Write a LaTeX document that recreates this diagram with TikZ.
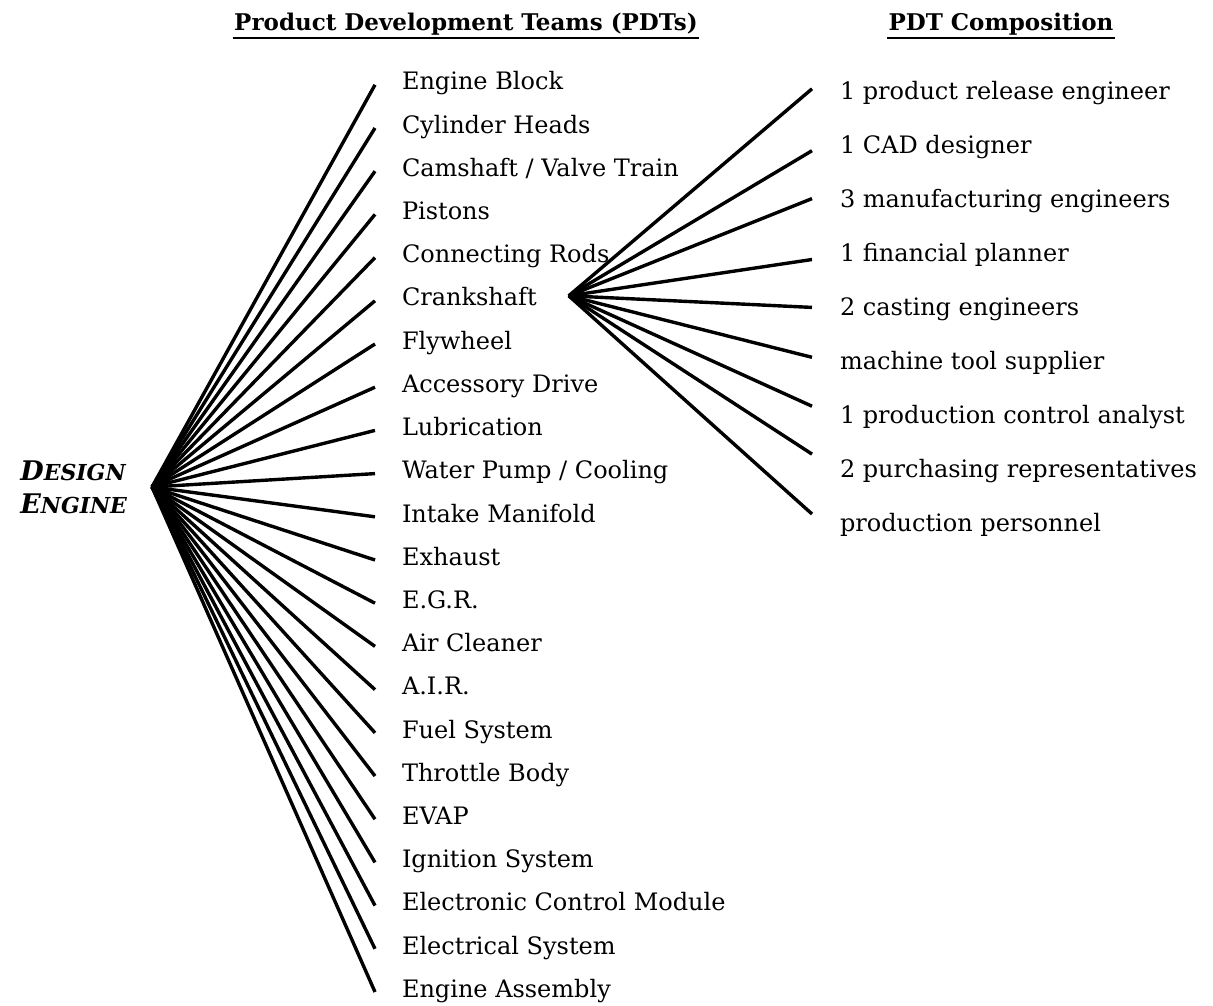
\documentclass[tikz,border=0pt]{standalone}
\usepackage{fontspec}
\setmainfont{DejaVu Serif}
\usepackage{tikz}

\begin{document}
\begin{tikzpicture}[x=0.5pt, y=-0.5pt, line width=1.7pt,
    team/.style = {anchor=base west, inner sep=0pt, outer xsep=13.5pt, font=\fontsize{12}{14}\selectfont},
    member/.style = {anchor=base west, inner sep=0pt, outer xsep=14pt, font=\fontsize{12}{14}\selectfont},
    head/.style = {anchor=base, inner sep=0pt, font=\fontsize{11.5}{14}\selectfont\bfseries},
    main/.style = {anchor=east, inner sep=0pt, outer xsep=12.5pt, align=left, font=\fontsize{11}{16.5}\selectfont\bfseries\itshape}]
    \useasboundingbox (0,0) rectangle (1213,1005);

    \node[head] (h1) at (466,31)  {Product Development Teams (PDTs)};
    \node[head] (h2) at (1001,31) {PDT Composition};
    \draw[line width=1.3pt] ([yshift=-3.5pt]h1.base west) -- ([yshift=-3.5pt]h1.base east);
    \draw[line width=1.3pt] ([yshift=-3.5pt]h2.base west) -- ([yshift=-3.5pt]h2.base east);

    \node[main] (design) at (152,487) {{\fontsize{13.5}{16.5}\selectfont D}ESIGN\\{\fontsize{13.5}{16.5}\selectfont E}NGINE};

    \foreach \name [count=\i] in {Engine Block, Cylinder Heads, Camshaft / Valve Train, Pistons,
        Connecting Rods, Crankshaft, Flywheel, Accessory Drive, Lubrication, Water Pump / Cooling,
        Intake Manifold, Exhaust, E.G.R., Air Cleaner, A.I.R., Fuel System, Throttle Body, EVAP,
        Ignition System, Electronic Control Module, Electrical System, Engine Assembly}
        \node[team] (t\i) at (375,{90+43.2*(\i-1)}) {\name};

    \foreach \i in {1,...,22}
        \draw (design.east) -- (t\i.mid west);

    \coordinate (hub) at ([xshift=2.5pt, yshift=2.5pt]t6.mid east);

    \foreach \name/\dy [count=\j] in {1 product release engineer/3, 1 CAD designer/-1,
        3 manufacturing engineers/2, 1 financial planner/-1.5, 2 casting engineers/1.5,
        machine tool supplier/3.5, 1 production control analyst/6,
        2 purchasing representatives/9, production personnel/6}
    {
        \node[member] (c\j) at (812,{100+53.9*(\j-1)}) {\name};
        \draw (hub) -- ([yshift=\dy pt]c\j.mid west);
    }
\end{tikzpicture}
\end{document}
